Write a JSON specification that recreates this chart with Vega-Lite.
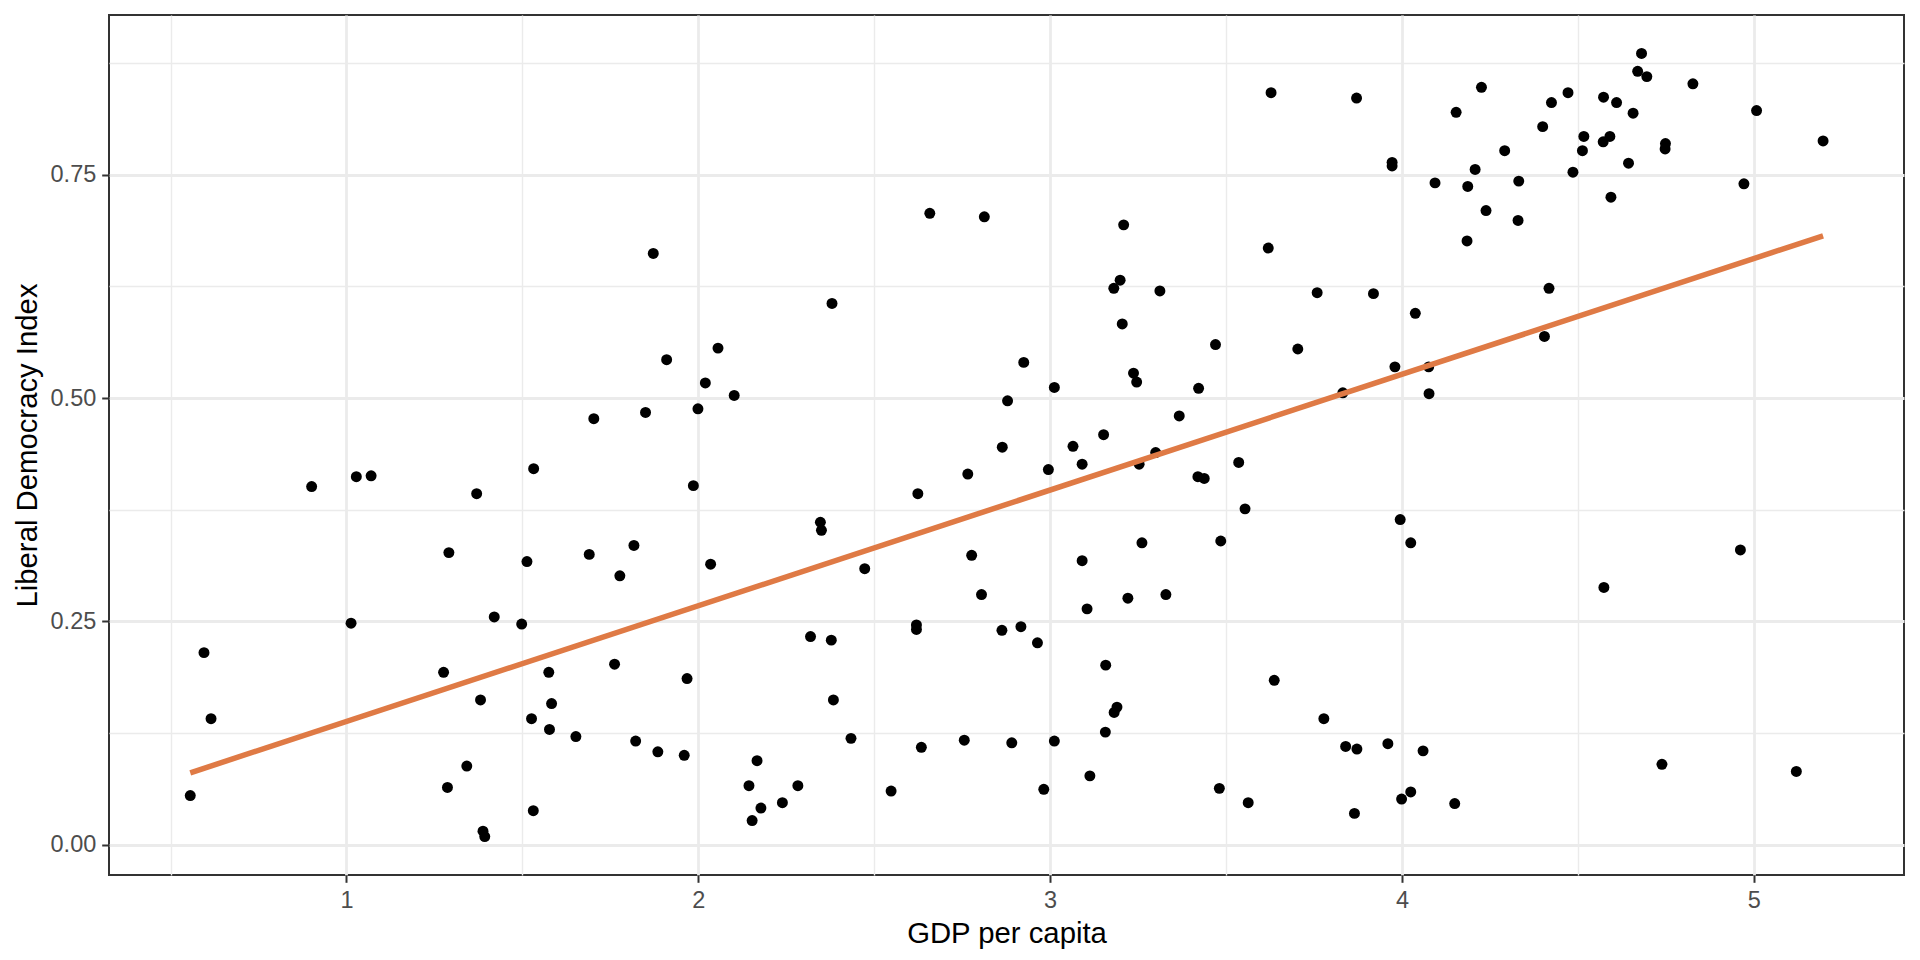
{
  "$schema": "https://vega.github.io/schema/vega-lite/v6.json",
  "description": "Liberal Democracy Index against GDP per capita, with a linear fit.",
  "width": 1795,
  "height": 860,
  "autosize": {"type": "none"},
  "padding": {"left": 109, "top": 15, "right": 16, "bottom": 85},
  "background": "white",
  "data": {
    "values": [
      {"gdp": 1.872, "ldi": 0.662}, {"gdp": 1.910, "ldi": 0.543}, {"gdp": 2.020, "ldi": 0.517},
      {"gdp": 1.703, "ldi": 0.477}, {"gdp": 1.850, "ldi": 0.484}, {"gdp": 1.999, "ldi": 0.488},
      {"gdp": 0.901, "ldi": 0.401}, {"gdp": 1.028, "ldi": 0.412}, {"gdp": 1.070, "ldi": 0.413},
      {"gdp": 1.370, "ldi": 0.393}, {"gdp": 1.532, "ldi": 0.421}, {"gdp": 1.986, "ldi": 0.402},
      {"gdp": 1.291, "ldi": 0.327}, {"gdp": 1.513, "ldi": 0.317}, {"gdp": 1.690, "ldi": 0.325},
      {"gdp": 1.817, "ldi": 0.335}, {"gdp": 1.777, "ldi": 0.301}, {"gdp": 1.013, "ldi": 0.248},
      {"gdp": 1.420, "ldi": 0.255}, {"gdp": 1.498, "ldi": 0.247}, {"gdp": 0.595, "ldi": 0.215},
      {"gdp": 0.615, "ldi": 0.141}, {"gdp": 0.556, "ldi": 0.055}, {"gdp": 1.276, "ldi": 0.193},
      {"gdp": 1.575, "ldi": 0.193}, {"gdp": 1.762, "ldi": 0.202}, {"gdp": 1.968, "ldi": 0.186},
      {"gdp": 1.381, "ldi": 0.162}, {"gdp": 1.583, "ldi": 0.158}, {"gdp": 1.526, "ldi": 0.141},
      {"gdp": 1.577, "ldi": 0.129}, {"gdp": 1.652, "ldi": 0.121}, {"gdp": 1.822, "ldi": 0.116},
      {"gdp": 1.885, "ldi": 0.104}, {"gdp": 1.960, "ldi": 0.100}, {"gdp": 1.342, "ldi": 0.088},
      {"gdp": 1.287, "ldi": 0.064}, {"gdp": 1.531, "ldi": 0.038}, {"gdp": 1.388, "ldi": 0.015},
      {"gdp": 1.393, "ldi": 0.009},
      {"gdp": 3.628, "ldi": 0.842}, {"gdp": 2.658, "ldi": 0.707}, {"gdp": 2.813, "ldi": 0.703},
      {"gdp": 3.209, "ldi": 0.694}, {"gdp": 3.620, "ldi": 0.668}, {"gdp": 3.199, "ldi": 0.632},
      {"gdp": 3.181, "ldi": 0.623}, {"gdp": 3.312, "ldi": 0.620}, {"gdp": 2.380, "ldi": 0.606},
      {"gdp": 3.205, "ldi": 0.583}, {"gdp": 2.056, "ldi": 0.556}, {"gdp": 3.470, "ldi": 0.560},
      {"gdp": 3.704, "ldi": 0.555}, {"gdp": 2.925, "ldi": 0.540}, {"gdp": 2.102, "ldi": 0.503},
      {"gdp": 3.237, "ldi": 0.528}, {"gdp": 3.246, "ldi": 0.518}, {"gdp": 3.012, "ldi": 0.512},
      {"gdp": 3.422, "ldi": 0.511}, {"gdp": 2.879, "ldi": 0.497}, {"gdp": 3.367, "ldi": 0.480},
      {"gdp": 3.152, "ldi": 0.459},
      {"gdp": 2.864, "ldi": 0.445}, {"gdp": 3.065, "ldi": 0.446}, {"gdp": 3.300, "ldi": 0.439},
      {"gdp": 2.766, "ldi": 0.415}, {"gdp": 2.995, "ldi": 0.420}, {"gdp": 3.091, "ldi": 0.426},
      {"gdp": 3.253, "ldi": 0.426}, {"gdp": 3.536, "ldi": 0.428}, {"gdp": 3.420, "ldi": 0.412},
      {"gdp": 3.438, "ldi": 0.410}, {"gdp": 3.554, "ldi": 0.376}, {"gdp": 2.624, "ldi": 0.393},
      {"gdp": 2.347, "ldi": 0.361}, {"gdp": 2.350, "ldi": 0.352}, {"gdp": 2.035, "ldi": 0.314},
      {"gdp": 2.473, "ldi": 0.309}, {"gdp": 3.261, "ldi": 0.338}, {"gdp": 3.485, "ldi": 0.340},
      {"gdp": 2.777, "ldi": 0.324}, {"gdp": 3.091, "ldi": 0.318}, {"gdp": 2.805, "ldi": 0.280},
      {"gdp": 3.105, "ldi": 0.264}, {"gdp": 3.221, "ldi": 0.276}, {"gdp": 3.329, "ldi": 0.280},
      {"gdp": 2.620, "ldi": 0.246}, {"gdp": 2.620, "ldi": 0.241}, {"gdp": 2.319, "ldi": 0.233},
      {"gdp": 2.378, "ldi": 0.229}, {"gdp": 2.863, "ldi": 0.240}, {"gdp": 2.917, "ldi": 0.244},
      {"gdp": 2.964, "ldi": 0.226}, {"gdp": 3.158, "ldi": 0.201}, {"gdp": 3.637, "ldi": 0.184},
      {"gdp": 2.384, "ldi": 0.162}, {"gdp": 3.190, "ldi": 0.154}, {"gdp": 3.182, "ldi": 0.148},
      {"gdp": 3.157, "ldi": 0.126}, {"gdp": 2.434, "ldi": 0.119}, {"gdp": 2.634, "ldi": 0.109},
      {"gdp": 2.756, "ldi": 0.117}, {"gdp": 2.891, "ldi": 0.114}, {"gdp": 3.012, "ldi": 0.116},
      {"gdp": 2.167, "ldi": 0.094}, {"gdp": 2.144, "ldi": 0.066}, {"gdp": 2.283, "ldi": 0.066},
      {"gdp": 2.178, "ldi": 0.041}, {"gdp": 2.239, "ldi": 0.047}, {"gdp": 2.153, "ldi": 0.027},
      {"gdp": 2.548, "ldi": 0.060}, {"gdp": 2.982, "ldi": 0.062}, {"gdp": 3.113, "ldi": 0.077},
      {"gdp": 3.481, "ldi": 0.063}, {"gdp": 3.563, "ldi": 0.047},
      {"gdp": 4.681, "ldi": 0.886}, {"gdp": 4.670, "ldi": 0.866}, {"gdp": 4.696, "ldi": 0.860},
      {"gdp": 4.827, "ldi": 0.852}, {"gdp": 4.226, "ldi": 0.848}, {"gdp": 3.871, "ldi": 0.836},
      {"gdp": 4.472, "ldi": 0.842}, {"gdp": 4.573, "ldi": 0.837}, {"gdp": 4.610, "ldi": 0.831},
      {"gdp": 4.425, "ldi": 0.831}, {"gdp": 4.657, "ldi": 0.819}, {"gdp": 4.154, "ldi": 0.820},
      {"gdp": 5.008, "ldi": 0.822}, {"gdp": 4.400, "ldi": 0.804}, {"gdp": 4.517, "ldi": 0.793},
      {"gdp": 4.591, "ldi": 0.793}, {"gdp": 4.572, "ldi": 0.787}, {"gdp": 4.749, "ldi": 0.785},
      {"gdp": 4.748, "ldi": 0.779}, {"gdp": 5.197, "ldi": 0.788}, {"gdp": 4.513, "ldi": 0.777},
      {"gdp": 4.292, "ldi": 0.777}, {"gdp": 3.972, "ldi": 0.764}, {"gdp": 3.972, "ldi": 0.760},
      {"gdp": 4.208, "ldi": 0.756}, {"gdp": 4.644, "ldi": 0.763}, {"gdp": 4.486, "ldi": 0.753},
      {"gdp": 4.094, "ldi": 0.741}, {"gdp": 4.332, "ldi": 0.743}, {"gdp": 4.972, "ldi": 0.740},
      {"gdp": 4.187, "ldi": 0.737}, {"gdp": 4.594, "ldi": 0.725}, {"gdp": 4.239, "ldi": 0.710},
      {"gdp": 4.330, "ldi": 0.699}, {"gdp": 4.185, "ldi": 0.676}, {"gdp": 3.759, "ldi": 0.618},
      {"gdp": 3.919, "ldi": 0.617}, {"gdp": 4.418, "ldi": 0.623}, {"gdp": 4.038, "ldi": 0.595},
      {"gdp": 4.405, "ldi": 0.569}, {"gdp": 3.980, "ldi": 0.535}, {"gdp": 4.076, "ldi": 0.535},
      {"gdp": 3.832, "ldi": 0.506}, {"gdp": 4.077, "ldi": 0.505},
      {"gdp": 3.995, "ldi": 0.364}, {"gdp": 4.025, "ldi": 0.338}, {"gdp": 4.962, "ldi": 0.330},
      {"gdp": 4.574, "ldi": 0.288}, {"gdp": 3.778, "ldi": 0.141}, {"gdp": 3.840, "ldi": 0.110},
      {"gdp": 3.872, "ldi": 0.107}, {"gdp": 3.960, "ldi": 0.113}, {"gdp": 4.060, "ldi": 0.105},
      {"gdp": 4.739, "ldi": 0.090}, {"gdp": 5.121, "ldi": 0.082}, {"gdp": 4.025, "ldi": 0.059},
      {"gdp": 3.999, "ldi": 0.051}, {"gdp": 4.150, "ldi": 0.046}, {"gdp": 3.865, "ldi": 0.035}
    ]
  },
  "layer": [
    {
      "mark": {"type": "circle", "size": 120, "color": "black", "opacity": 1},
      "encoding": {
        "x": {
          "field": "gdp",
          "type": "quantitative",
          "scale": {"domain": [0.325, 5.427], "nice": false, "zero": false},
          "axis": {
            "orient": "bottom",
            "values": [0.5, 1.5, 2.5, 3.5, 4.5],
            "grid": true,
            "gridColor": "#EBEBEB",
            "gridWidth": 1.4,
            "labels": false,
            "ticks": false,
            "domain": false,
            "title": null
          }
        },
        "y": {
          "field": "ldi",
          "type": "quantitative",
          "scale": {"domain": [-0.034, 0.929], "nice": false, "zero": false},
          "axis": {
            "orient": "left",
            "values": [0.125, 0.375, 0.625, 0.875],
            "grid": true,
            "gridColor": "#EBEBEB",
            "gridWidth": 1.4,
            "labels": false,
            "ticks": false,
            "domain": false,
            "title": null
          }
        }
      }
    },
    {
      "transform": [{"regression": "ldi", "on": "gdp"}],
      "mark": {"type": "line", "color": "#DF7A45", "strokeWidth": 5.5},
      "encoding": {
        "x": {
          "field": "gdp",
          "type": "quantitative",
          "axis": {
            "orient": "bottom",
            "values": [1, 2, 3, 4, 5],
            "format": "d",
            "grid": true,
            "gridColor": "#EBEBEB",
            "gridWidth": 2.8,
            "title": "GDP per capita"
          }
        },
        "y": {
          "field": "ldi",
          "type": "quantitative",
          "axis": {
            "orient": "left",
            "values": [0, 0.25, 0.5, 0.75],
            "format": ".2f",
            "grid": true,
            "gridColor": "#EBEBEB",
            "gridWidth": 2.8,
            "title": "Liberal Democracy Index"
          }
        }
      }
    }
  ],
  "resolve": {"axis": {"x": "independent", "y": "independent"}},
  "config": {
    "font": "Liberation Sans",
    "view": {"stroke": "#333333", "strokeWidth": 2},
    "axis": {
      "domain": false,
      "tickColor": "#333333",
      "tickWidth": 2,
      "tickSize": 7.3,
      "labelPadding": 5.9,
      "labelFont": "Liberation Sans",
      "labelFontSize": 23.5,
      "labelColor": "#4D4D4D",
      "titleFont": "Liberation Sans",
      "titleFontSize": 29.3,
      "titleFontWeight": "normal",
      "titleColor": "black",
      "titlePadding": 7.3
    }
  }
}
